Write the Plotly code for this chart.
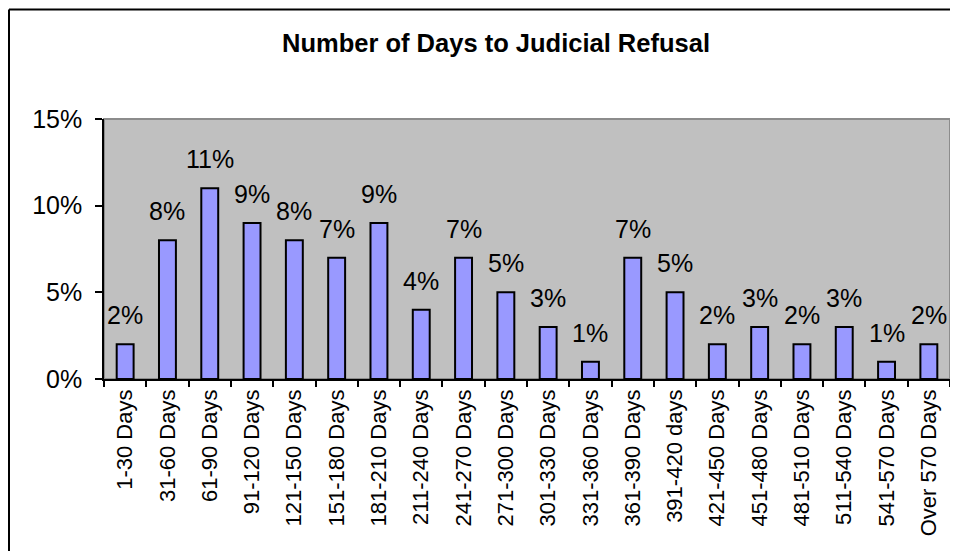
import plotly.graph_objects as go

categories = ["1-30 Days", "31-60 Days", "61-90 Days", "91-120 Days", "121-150 Days",
              "151-180 Days", "181-210 Days", "211-240 Days", "241-270 Days", "271-300 Days",
              "301-330 Days", "331-360 Days", "361-390 Days", "391-420 days", "421-450 Days",
              "451-480 Days", "481-510 Days", "511-540 Days", "541-570 Days", "Over 570 Days"]
percent_values = [2, 8, 11, 9, 8, 7, 9, 4, 7, 5, 3, 1, 7, 5, 2, 3, 2, 3, 1, 2]
value_labels = [f"{v}%" for v in percent_values]
y_tick_values = [0, 5, 10, 15]
y_tick_labels = ["0%", "5%", "10%", "15%"]
title_text = "Number of Days to Judicial Refusal"

# page body has an 8px margin on every side; keep the figure inside the window
OFF = 8
W, H = 958 - 2 * OFF, 559 - 2 * OFF
L, R, T = 104 - OFF, 0, 119 - OFF
B = H - (379 - OFF)
pw, ph = W - L - R, H - T - B

FONT = "Liberation Sans, Arial, sans-serif"

fig = go.Figure()
fig.add_trace(go.Bar(
    x=categories, y=percent_values,
    marker=dict(color="#9999FF", line=dict(color="black", width=2)),
    hoverinfo="skip",
))

for c, v, t in zip(categories, percent_values, value_labels):
    fig.add_annotation(x=c, y=v, text=t, showarrow=False, yanchor="bottom",
                       yshift=13, font=dict(family=FONT, size=25, color="black"))

# plot area border (gray, top/right visible)
fig.add_shape(type="rect", xref="paper", yref="paper", x0=0, y0=0, x1=1, y1=1,
              line=dict(color="#8C8C8C", width=2), layer="below")
# outer chart border: only the left and top edges are visible in the reference
x_left = (1 - L) / pw
y_top = (T + ph - 1.5) / ph
y_bot = (T + ph - H - 5) / ph
x_right = (W + 5 - L) / pw
fig.add_shape(type="line", xref="paper", yref="paper", x0=x_left, x1=x_left,
              y0=y_top, y1=y_bot, line=dict(color="black", width=2))
fig.add_shape(type="line", xref="paper", yref="paper", x0=x_left, x1=x_right,
              y0=y_top, y1=y_top, line=dict(color="black", width=2))

fig.update_layout(
    width=W, height=H,
    margin=dict(l=L, r=R, t=T, b=B),
    paper_bgcolor="white", plot_bgcolor="#C0C0C0",
    bargap=0.6, showlegend=False,
    font=dict(family=FONT, color="black"),
    title=dict(text=f"<b>{title_text}</b>", x=(496 - OFF) / W, xanchor="center",
               y=1 - (43 - OFF) / H, yanchor="middle", yref="container",
               font=dict(family=FONT, size=25.5, color="black")),
)
fig.update_xaxes(type="category", showline=True, linecolor="black", linewidth=1.5,
                 ticks="outside", tickson="boundaries", ticklen=6, tickcolor="black",
                 tickwidth=1.5, tickangle=-90, tickfont=dict(family=FONT, size=22),
                 showgrid=False, fixedrange=True)
fig.update_yaxes(range=[0, 15], tickvals=y_tick_values, ticktext=y_tick_labels,
                 showline=True, linecolor="black", linewidth=1.5, ticks="outside",
                 ticklen=7, tickcolor="black", tickwidth=1.5, showgrid=False,
                 ticklabelstandoff=8,
                 zeroline=False, tickfont=dict(family=FONT, size=25), fixedrange=True)

fig.write_html("out.html")
